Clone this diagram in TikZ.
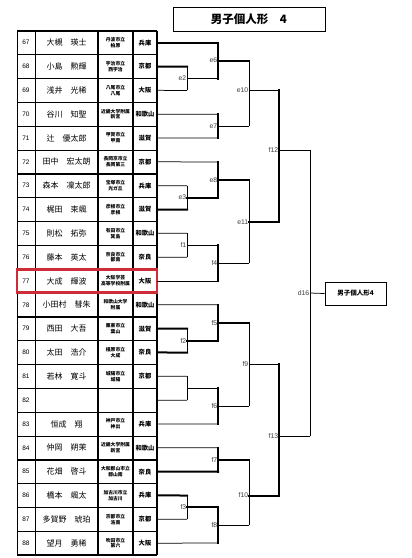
\documentclass[tikz,border=0pt]{standalone}
\usepackage{fontspec}
\setmainfont{Liberation Sans}
\newfontfamily\jpfont{Noto Sans CJK JP}
\definecolor{boxred}{RGB}{205,45,55}
\definecolor{lblgray}{RGB}{60,60,60}
\newcommand\mtch[6]{%
  \coordinate (#1t) at (#2,#3);
  \coordinate (#1) at (#2,#4);
  \coordinate (#1b) at (#2,#5);
  \draw[#6] (#1t) -- (#1b);}
\begin{document}
\begin{tikzpicture}[x=1pt,y=-1pt,
  thn/.style={line width=0.75pt},
  thk/.style={line width=2pt,line cap=rect},
  tblthin/.style={line width=0.6pt},
  tblthick/.style={line width=1.6pt},
  numtxt/.style={font=\fontsize{6.5}{7}\selectfont,inner sep=0pt},
  nametxt/.style={font=\jpfont\fontsize{8}{9}\selectfont,inner sep=0pt},
  schooltxt/.style={font=\jpfont\bfseries\fontsize{4.8}{5.8}\selectfont,inner sep=0pt,align=center},
  preftxt/.style={font=\jpfont\bfseries\fontsize{6.3}{7}\selectfont,inner sep=0pt},
  lbl/.style={font=\fontsize{6.8}{7}\selectfont,text=lblgray,anchor=east,inner xsep=0.6pt,inner ysep=0pt},
  titlebox/.style={draw,line width=0.9pt,minimum width=152pt,minimum height=24.6pt,inner sep=0pt,font=\jpfont\bfseries\fontsize{11.5}{13}\selectfont},
  finalbox/.style={draw,line width=0.9pt,minimum width=61pt,minimum height=23pt,inner sep=0pt,font=\jpfont\bfseries\fontsize{6.5}{7}\selectfont}
]
\useasboundingbox (0,0) rectangle (412,558);
\fill[white] (0,0) rectangle (412,558);

% title
\node[titlebox] (title) at (249,19.3) {男子個人形　4};

% table rows
\foreach \i/\nm/\sa/\sb/\pf in {
 0/大槻　瑛士/丹波市立/柏原/兵庫,
 1/小島　勲輝/宇治市立/西宇治/京都,
 2/浅井　光稀/八尾市立/八尾/大阪,
 3/谷川　知聖/近畿大学附属/新宮/和歌山,
 4/辻　優太郎/甲賀市立/甲南/滋賀,
 5/田中　宏太朗/長岡京市立/長岡第三/京都,
 6/森本　凜太郎/宝塚市立/光ガ丘/兵庫,
 7/梶田　束颯/彦根市立/彦根/滋賀,
 8/則松　拓弥/有田市立/箕島/和歌山,
 9/藤本　英太/奈良市立/都南/奈良,
 10/大成　輝波/大阪学芸/高等学校附属/大阪,
 11/小田村　彗朱/和歌山大学/附属/和歌山,
 12/西田　大吾/栗東市立/葉山/滋賀,
 13/太田　浩介/橿原市立/大成/奈良,
 14/若林　寛斗/城陽市立/城陽/京都,
 15/{}/{}/{}/{},
 16/恒成　翔/神戸市立/神出/兵庫,
 17/仲岡　朔茉/近畿大学附属/新宮/和歌山,
 18/花畑　啓斗/大和郡山市立/郡山南/奈良,
 19/橋本　颯太/加古川市立/加古川/兵庫,
 20/多賀野　琥珀/京都市立/洛南/京都,
 21/望月　勇稀/吹田市立/第六/大阪}{
  \pgfmathtruncatemacro\num{67+\i}
  \pgfmathsetmacro\yy{42.7+23.83*\i}
  \node[numtxt] (n\num) at (26,\yy) {\num};
  \node[nametxt] (nm\num) at (66.5,\yy) {\nm};
  \node[schooltxt] (sc\num) at (115.5,\yy) {\sa\\\sb};
  \node[preftxt] (pf\num) at (145,\yy) {\pf};
  \coordinate (r\num) at (157,\yy);
}

% table grid
\foreach \k in {0,...,22}{
  \pgfmathsetmacro\yb{30.8+23.83*\k}
  \draw[tblthin] (17,\yb) -- (157,\yb);
}
\foreach \k in {0,1,6,7,12,18,19,22}{
  \pgfmathsetmacro\yb{30.8+23.83*\k}
  \draw[tblthick] (17,\yb) -- (157,\yb);
}
\draw[line width=1pt] (17,30.8) -- (17,555.1);
\draw[tblthin] (35,30.8) -- (35,555.1);
\draw[tblthick] (98,30.8) -- (98,555.1);
\draw[tblthick] (133,30.8) -- (133,555.1);
\draw[tblthick] (157,30.8) -- (157,555.1);

% highlight row 77
\draw[boxred,line width=2.4pt] (17,269.6) rectangle (157,292.6);

% bracket junctions
\mtch{e2}{187}{66.5}{78.5}{90.4}{thn}
\mtch{e3}{187}{185.7}{197.6}{209.5}{thn}
\mtch{f1}{187}{233.3}{245.2}{257.2}{thn}
\mtch{f2}{187}{328.7}{340.6}{352.5}{thn}
\mtch{bye}{187}{376.3}{388.2}{400.2}{thn}
\mtch{f3}{187}{495.5}{507.4}{519.3}{thn}
\mtch{e6}{218}{42.7}{60.6}{78.5}{thk}
\mtch{e7}{218}{114.2}{126.1}{138.0}{thk}
\mtch{e8}{218}{161.9}{179.8}{197.6}{thk}
\mtch{f4}{218}{245.2}{263.1}{281.0}{thk}
\mtch{f5}{218}{304.8}{322.7}{340.6}{thk}
\mtch{f6}{218}{388.2}{406.1}{424.0}{thk}
\mtch{f7}{218}{447.8}{459.7}{471.6}{thk}
\mtch{f8}{218}{507.4}{525.3}{543.1}{thk}
\mtch{e10}{249}{60.6}{90.4}{126.1}{thn}
\mtch{e11}{249}{179.8}{222.0}{263.1}{thn}
\mtch{f9}{249}{322.7}{364.4}{406.1}{thn}
\mtch{f10}{249}{459.7}{495.5}{525.3}{thn}
\mtch{f12}{279}{90.4}{150.0}{222.0}{thk}
\mtch{f13}{279}{364.4}{436.0}{495.5}{thk}
\mtch{d16}{310}{150.0}{293.0}{436.0}{thn}

% first round
\draw[thk] (r68) -- (e2t);  \draw[thn] (r69) -- (e2b);
\draw[thn] (r73) -- (e3t);  \draw[thk] (r74) -- (e3b);
\draw[thn] (r75) -- (f1t);  \draw[thn] (r76) -- (f1b);
\draw[thk] (r79) -- (f2t);  \draw[thk] (r80) -- (f2b);
\draw[thn] (r81) -- (byet); \draw[thn] (r82) -- (byeb);
\draw[thk] (r86) -- (f3t);  \draw[thn] (r87) -- (f3b);
% second round
\draw[thk] (r67) -- (e6t);  \draw[thn] (e2) -- (e6b);
\draw[thn] (r70) -- (e7t);  \draw[thn] (r71) -- (e7b);
\draw[thn] (r72) -- (e8t);  \draw[thk] (e3) -- (e8b);
\draw[thn] (f1) -- (f4t);   \draw[thn] (r77) -- (f4b);
\draw[thn] (r78) -- (f5t);  \draw[thk] (f2) -- (f5b);
\draw[thn] (bye) -- (f6t);  \draw[thn] (r83) -- (f6b);
\draw[thn] (r84) -- (f7t);  \draw[thk] (r85) -- (f7b);
\draw[thk] (f3) -- (f8t);   \draw[thn] (r88) -- (f8b);
% third round
\draw[thk] (e6) -- (e10t);  \draw[thn] (e7) -- (e10b);
\draw[thk] (e8) -- (e11t);  \draw[thn] (f4) -- (e11b);
\draw[thk] (f5) -- (f9t);   \draw[thn] (f6) -- (f9b);
\draw[thk] (f7) -- (f10t);  \draw[thn] (f8) -- (f10b);
% fourth round
\draw[thn] (e10) -- (f12t); \draw[thk] (e11) -- (f12b);
\draw[thn] (f9) -- (f13t);  \draw[thk] (f10) -- (f13b);
% final
\draw[thn] (f12) -- (d16t); \draw[thn] (f13) -- (d16b);
\node[finalbox] (final) at (355.5,293.5) {男子個人形4};
\draw[thn] (d16) -- (final.west);

% labels
\foreach \m in {e2,e3,f1,f2,f3,e6,e7,e8,f4,f5,f6,f7,f8,e10,e11,f9,f10,f12,f13,d16}{
  \node[lbl] (l\m) at (\m) {\m};
}
\end{tikzpicture}
\end{document}
